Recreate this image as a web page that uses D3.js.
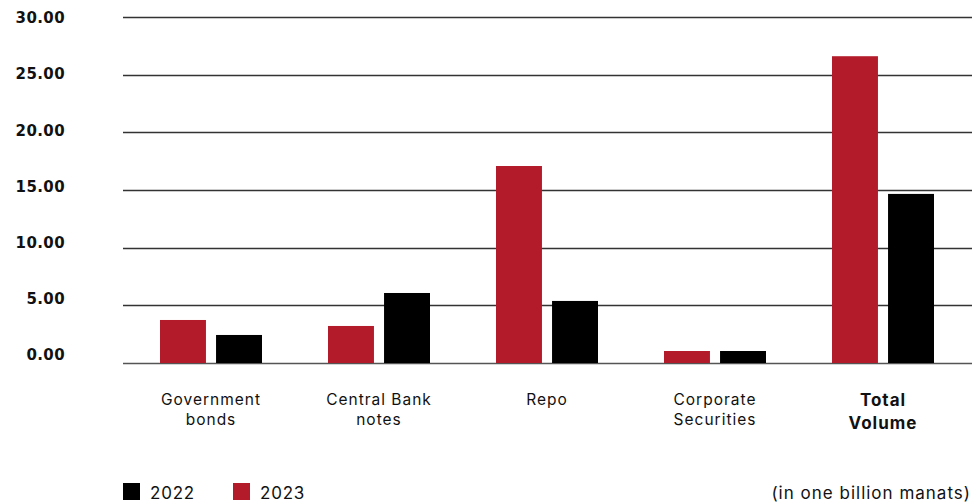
<!DOCTYPE html>
<html>
<head>
<meta charset="utf-8">
<script src="https://cdn.jsdelivr.net/npm/d3@7"></script>
<style>
  body { margin: 0; background: #fff; }
  svg { display: block; font-family: "Inter", "Roboto", sans-serif; }
  .tick text { font-family: "DejaVu Sans", sans-serif; }
</style>
</head>
<body>
<div id="chart"></div>
<script>
// chart data (in one billion manats)
const categories = ['Government bonds', 'Central Bank notes', 'Repo', 'Corporate Securities', 'Total Volume'];
const catLines = [['Government', 'bonds'], ['Central Bank', 'notes'], ['Repo'], ['Corporate', 'Securities'], ['Total', 'Volume']];
const years = ['2023', '2022'];
const values2023 = [3.73, 3.21, 17.08, 1.04, 26.6];
const values2022 = [2.43, 6.07, 5.38, 1.04, 14.66];
const yTicks = [0, 5, 10, 15, 20, 25, 30];

const colors = { '2023': '#b31b2a', '2022': '#000000' };
const width = 973, height = 503;

const svg = d3.select('#chart').append('svg').attr('width', width).attr('height', height);

const x0 = d3.scaleBand().domain(categories).range([127, 967]).padding(0);
const x1 = d3.scaleBand().domain(years).range([33, 135]).paddingInner(0.18).paddingOuter(0);
const y = d3.scaleLinear().domain([0, 30]).range([363, 17]);
// the tick labels sit on a slightly tighter scale than the gridlines in the original
const yLabel = d3.scaleLinear().domain([0, 30]).range([355, 18]);

// gridlines
svg.append('g')
  .selectAll('line').data(yTicks).enter().append('line')
  .attr('x1', 123).attr('x2', 972)
  .attr('y1', d => Math.round(y(d)) + 0.5).attr('y2', d => Math.round(y(d)) + 0.5)
  .attr('stroke', d => d === 0 ? '#555' : '#333')
  .attr('stroke-width', 1.6);

// y axis labels
const yAxis = svg.append('g').attr('transform', 'translate(65,0)')
  .call(d3.axisLeft(yLabel).tickValues(yTicks).tickSize(0).tickPadding(0).tickFormat(d3.format('.2f')));
yAxis.select('.domain').remove();
yAxis.selectAll('text')
  .attr('font-size', 15).attr('font-weight', 'bold').attr('fill', '#111')
  .style('letter-spacing', '0.4px');

// bars
const rows = categories.map((c, i) => ({ cat: c, vals: [{ year: '2023', v: values2023[i] }, { year: '2022', v: values2022[i] }] }));
const groups = svg.append('g').selectAll('g').data(rows).enter().append('g')
  .attr('transform', d => `translate(${x0(d.cat)},0)`);
groups.selectAll('rect').data(d => d.vals).enter().append('rect')
  .attr('x', d => x1(d.year))
  .attr('width', x1.bandwidth())
  .attr('y', d => y(d.v))
  .attr('height', d => y(0) - y(d.v))
  .attr('fill', d => colors[d.year]);

// category labels
categories.forEach((c, i) => {
  const bold = c === 'Total Volume';
  const t = svg.append('text')
    .attr('x', x0(c) + x0.bandwidth() / 2)
    .attr('text-anchor', 'middle')
    .attr('font-size', bold ? 17 : 15.5)
    .attr('font-weight', bold ? 'bold' : 'normal')
    .attr('fill', '#111')
    .style('letter-spacing', '1px');
  catLines[i].forEach((ln, j) => {
    t.append('tspan')
      .attr('x', x0(c) + x0.bandwidth() / 2)
      .attr('y', bold ? 406 + j * 23 : 405 + j * 20)
      .text(ln);
  });
});

// legend
const legend = [{ year: '2022', x: 123 }, { year: '2023', x: 233 }];
legend.forEach(l => {
  svg.append('rect').attr('x', l.x).attr('y', 483).attr('width', 17).attr('height', 17).attr('fill', colors[l.year]);
  svg.append('text').attr('x', l.x + 27).attr('y', 499)
    .attr('font-size', 17).attr('fill', '#111').style('letter-spacing', '0.8px').text(l.year);
});
svg.append('text').attr('x', 971).attr('y', 499).attr('text-anchor', 'end')
  .attr('font-size', 17).attr('fill', '#111').style('letter-spacing', '1px').text('(in one billion manats)');
</script>
</body>
</html>
